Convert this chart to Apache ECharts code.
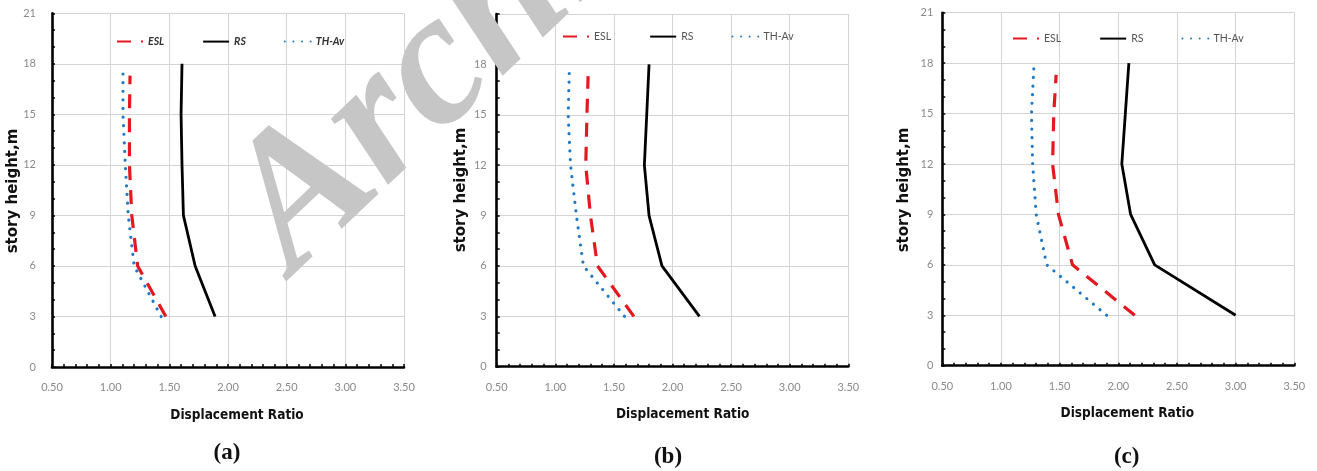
<!DOCTYPE html>
<html><head><meta charset="utf-8">
<script src="https://cdn.jsdelivr.net/npm/echarts@6/dist/echarts.min.js"></script>
<style>html,body{margin:0;padding:0;background:#fff}#c{width:1317px;height:471px}</style>
</head><body><div id="c"></div>
<script>
// ---- data ----
const xTickLabels = ['0.50','1.00','1.50','2.00','2.50','3.00','3.50'];
const yTickLabels = ['0','3','6','9','12','15','18','21'];
const panelLabels = ['(a)','(b)','(c)'];
const seriesNames = ['ESL','RS','TH-Av'];
const xTitle = 'Displacement Ratio';
const yTitle = 'story height,m';
const watermark = 'Archive';

const heightsESL = [3,6,9,12,15,17.3];
const heightsRS  = [3,6,9,12,15,18];
const heightsTH  = [3,6,9,12,15,17.7];

const eslA = [1.47,1.23,1.18,1.16,1.16,1.165];
const rsA  = [1.89,1.72,1.62,1.608,1.60,1.608];
const thA  = [1.43,1.20,1.15,1.125,1.105,1.105];

const eslB = [1.67,1.36,1.30,1.26,1.27,1.28];
const rsB  = [2.23,1.91,1.80,1.76,1.78,1.80];
const thB  = [1.59,1.24,1.18,1.13,1.11,1.12];

const eslC = [2.14,1.61,1.49,1.44,1.45,1.47];
const rsC  = [3.00,2.31,2.105,2.03,2.06,2.09];
const thC  = [1.90,1.39,1.30,1.27,1.26,1.28];

const panelData = [[eslA,rsA,thA],[eslB,rsB,thB],[eslC,rsC,thC]];
const heightSets = [heightsESL,heightsRS,heightsTH];

// ---- layout / style ----
const grids = [
  {left:52,  top:13.3, width:352, height:353.7},
  {left:496.7, top:14, width:351.6, height:352.7},
  {left:942.3, top:12.7, width:352, height:353}
];
const yLabelMargins = [16,10,9];
const legendPos = [{left:111, top:31},{left:557, top:26},{left:1007, top:28}];
const xTitlePos = [[237,415],[682.7,414],[1127.3,413.3]];
const yTitlePos = [[13,191],[461,190],[904,190]];
const captionPos = [[227,453],[668,456.7],[1126.7,456.7]];

const seriesStyles = [
  {color:'#E3191F', width:3.2, type:[14,10], cap:'butt'},
  {color:'#000000', width:2.8, type:'solid', cap:'butt'},
  {color:'#2279C3', width:3.2, type:[0.01,8.6], cap:'round'}
];

const xMin = parseFloat(xTickLabels[0]), xMax = parseFloat(xTickLabels[xTickLabels.length-1]);
const yMin = +yTickLabels[0], yMax = +yTickLabels[yTickLabels.length-1];

const option = {
  animation:false,
  backgroundColor:'#ffffff',
  grid: grids.map(g=>Object.assign({containLabel:false}, g)),
  legend: legendPos.map((p,i)=>({
    left:p.left, top:p.top, data:seriesNames, itemWidth:26, itemHeight:14, itemGap:38,
    itemStyle:{opacity:0, borderWidth:0},
    textStyle:{fontFamily:'Lato', fontSize:10.5, color: i===0?'#303030':'#555555',
      fontStyle: i===0?'italic':'normal', fontWeight: i===0?'bold':'normal'},
    selectedMode:false
  })),
  xAxis: grids.map((g,i)=>({
    type:'value', gridIndex:i, min:xMin, max:xMax, interval:0.5,
    axisLine:{show:true, onZero:false, lineStyle:{color:'#000', width:2.6}},
    axisTick:{show:true, inside:true, length:3, lineStyle:{color:'#000', width:1.5}},
    minorTick:{show:true, splitNumber:5, length:3, lineStyle:{color:'#000', width:1.5}},
    splitLine:{show:true, lineStyle:{color:'#d4d4d4', width:1}},
    axisLabel:{margin:15, fontFamily:'Lato', fontSize:11, color:'#8a8a8a',
      formatter:v=>{const s=v.toFixed(2); return xTickLabels.includes(s)?s:'';}}
  })),
  yAxis: grids.map((g,i)=>({
    type:'value', gridIndex:i, min:yMin, max:yMax, interval:3,
    axisLine:{show:true, onZero:false, lineStyle:{color:'#000', width:2.6}},
    axisTick:{show:true, inside:true, length:3, lineStyle:{color:'#000', width:1.5}},
    minorTick:{show:true, splitNumber:3, length:3, lineStyle:{color:'#000', width:1.5}},
    splitLine:{show:true, lineStyle:{color:'#d4d4d4', width:1}},
    axisLabel:{margin:yLabelMargins[i], fontFamily:'Lato', fontSize:11, color:'#8a8a8a',
      formatter:v=>{const s=String(v); return yTickLabels.includes(s)?s:'';}}
  })),
  series: [],
  graphic: []
};

panelData.forEach((sets,pi)=>{
  sets.forEach((xs,si)=>{
    const st = seriesStyles[si];
    option.series.push({
      type:'line', name:seriesNames[si], xAxisIndex:pi, yAxisIndex:pi,
      data: xs.map((x,k)=>[x, heightSets[si][k]]),
      showSymbol:false, symbol:'none', smooth:false,
      itemStyle:{color:st.color},
      lineStyle:{color:st.color, width:st.width, type:st.type, cap:st.cap, join:'round'},
      z: 3-si+2
    });
  });
  option.graphic.push({
    type:'text', x:xTitlePos[pi][0], y:xTitlePos[pi][1],
    style:{text:xTitle, font:'bold 13.5px "DejaVu Sans Condensed"', fill:'#111', align:'center', verticalAlign:'middle'}
  });
  option.graphic.push({
    type:'text', x:yTitlePos[pi][0], y:yTitlePos[pi][1], rotation:Math.PI/2,
    style:{text:yTitle, font:'bold 15px "DejaVu Sans"', fill:'#111', align:'center', verticalAlign:'middle'}
  });
  option.graphic.push({
    type:'text', x:captionPos[pi][0], y:captionPos[pi][1],
    style:{text:panelLabels[pi], font:'bold 23px "Liberation Serif"', fill:'#111', align:'center', verticalAlign:'middle'}
  });
});

option.graphic.push({
  type:'text', x:325, y:308, rotation:0.76, z:100,
  style:{text:watermark, font:'bold italic 190px "Liberation Serif"', fill:'#c6c6c6', align:'left', verticalAlign:'bottom'}
});

const chart = echarts.init(document.getElementById('c'), null, {renderer:'canvas'});
chart.setOption(option);
</script>
</body></html>
